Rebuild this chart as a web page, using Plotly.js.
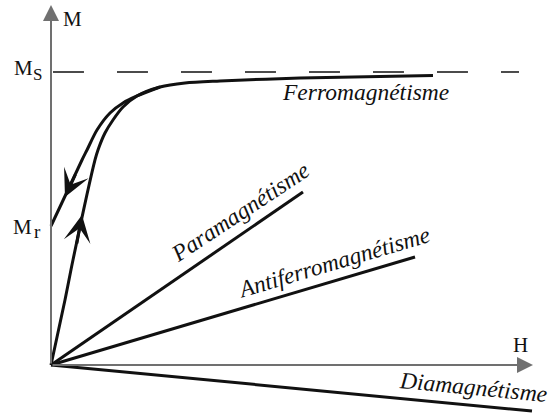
<!DOCTYPE html>
<html>
<head>
<meta charset="utf-8">
<script src="https://cdn.plot.ly/plotly-3.0.1.min.js"></script>
<style>html,body{margin:0;padding:0;background:#fff}#chart{width:548px;height:414px}</style>
</head>
<body>
<div id="chart"></div>
<script>
// magnetisation M (Ms = 100) against field H (axis end = 100)
var ferroUpH = [0, 2.90, 4.56, 9.13, 9.75, 11.20, 12.86, 14.94, 17.84, 22.61, 27.80, 35.06, 51.66, 79.25];
var ferroUpM = [0, 22.18, 35.84, 69.97, 73.38, 79.18, 83.62, 88.05, 91.81, 94.88, 96.25, 96.93, 97.95, 98.81];
// branch coming back down to the remanence Mr
var ferroDownH = [0, 6.43, 7.47, 9.54, 12.24, 14.94, 17.84, 22.61];
var ferroDownM = [47.44, 69.97, 73.38, 80.20, 86.01, 89.42, 91.81, 94.88];
var paraH = [0, 52.28], paraM = [0, 59.04];
var antiH = [0, 75.52], antiM = [0, 36.86];
var diaH = [0, 99.79], diaM = [0, -15.70];
var Ms = 100, Mr = 47.44;
var satH = [0.41, 97.1];
var axisEndH = 100, axisEndM = 122.9;

var INK = '#111';
var AXIS = '#707070';
var SERIF = '"Liberation Serif", "Times New Roman", serif';

function line(x, y, extra) {
  var t = {
    type: 'scatter', mode: 'lines', x: x, y: y,
    line: { color: INK, width: 3 }, hoverinfo: 'skip', showlegend: false
  };
  for (var k in extra) t[k] = extra[k];
  return t;
}

var data = [
  line(satH, [Ms, Ms], { line: { color: INK, width: 1.5, dash: '31px,33px' } }),
  line(ferroUpH, ferroUpM, { line: { color: INK, width: 3, shape: 'spline', smoothing: 0.8 } }),
  line(ferroDownH, ferroDownM, { line: { color: INK, width: 3, shape: 'spline', smoothing: 0.8 } }),
  line(paraH, paraM),
  line(antiH, antiM),
  line(diaH, diaM)
];

function arrow(x0, y0, x1, y1, color, w, head, size) {
  return {
    x: x1, y: y1, ax: x0, ay: y0, xref: 'x', yref: 'y', axref: 'x', ayref: 'y',
    text: '', showarrow: true, arrowhead: head, arrowsize: size, arrowwidth: w,
    arrowcolor: color, standoff: 0
  };
}

function label(text, x, y, size, angle, italic) {
  return {
    x: x, y: y, xref: 'x', yref: 'y', text: italic ? '<i>' + text + '</i>' : text,
    showarrow: false, xanchor: 'center', yanchor: 'middle', textangle: angle || 0,
    font: { family: SERIF, size: size, color: INK }
  };
}

var annotations = [
  // axes
  arrow(0, 0, 0, axisEndM, AXIS, 2, 2, 1.6),
  arrow(0, 0, axisEndH, 0, AXIS, 2, 2, 1.6),
  // direction marks on the hysteresis branches
  arrow(5.2, 65.5, 2.90, 57.34, INK, 3, 3, 1.5),
  arrow(5.3, 41.0, 6.43, 51.19, INK, 3, 3, 1.5),
  label('M', 4.36, 118.1, 21),
  label('H', 97.3, 6.8, 21),
  label('M', -5.8, Ms + 1.2, 21),
  label('S', -2.7, Ms - 0.7, 17),
  label('M', -5.9, Mr - 0.3, 21),
  label('r', -2.8, Mr - 2.0, 19),
  label('Ferromagnétisme', 65.35, 93.3, 23.5, 0, true),
  label('Paramagnétisme', 39.2, 52.2, 23.5, -33.5, true),
  label('Antiferromagnétisme', 58.7, 35.0, 23.5, -16.5, true),
  label('Diamagnétisme', 87.6, -7.6, 23.5, 5.5, true)
];

var layout = {
  width: 548, height: 414,
  margin: { l: 0, r: 0, t: 0, b: 0 },
  paper_bgcolor: '#fff', plot_bgcolor: '#fff',
  font: { family: SERIF },
  xaxis: { range: [-10.58, 103.11], visible: false, fixedrange: true },
  yaxis: { range: [-16.72, 124.57], visible: false, fixedrange: true },
  annotations: annotations,
  showlegend: false
};

Plotly.newPlot('chart', data, layout, { staticPlot: true });
</script>
</body>
</html>
